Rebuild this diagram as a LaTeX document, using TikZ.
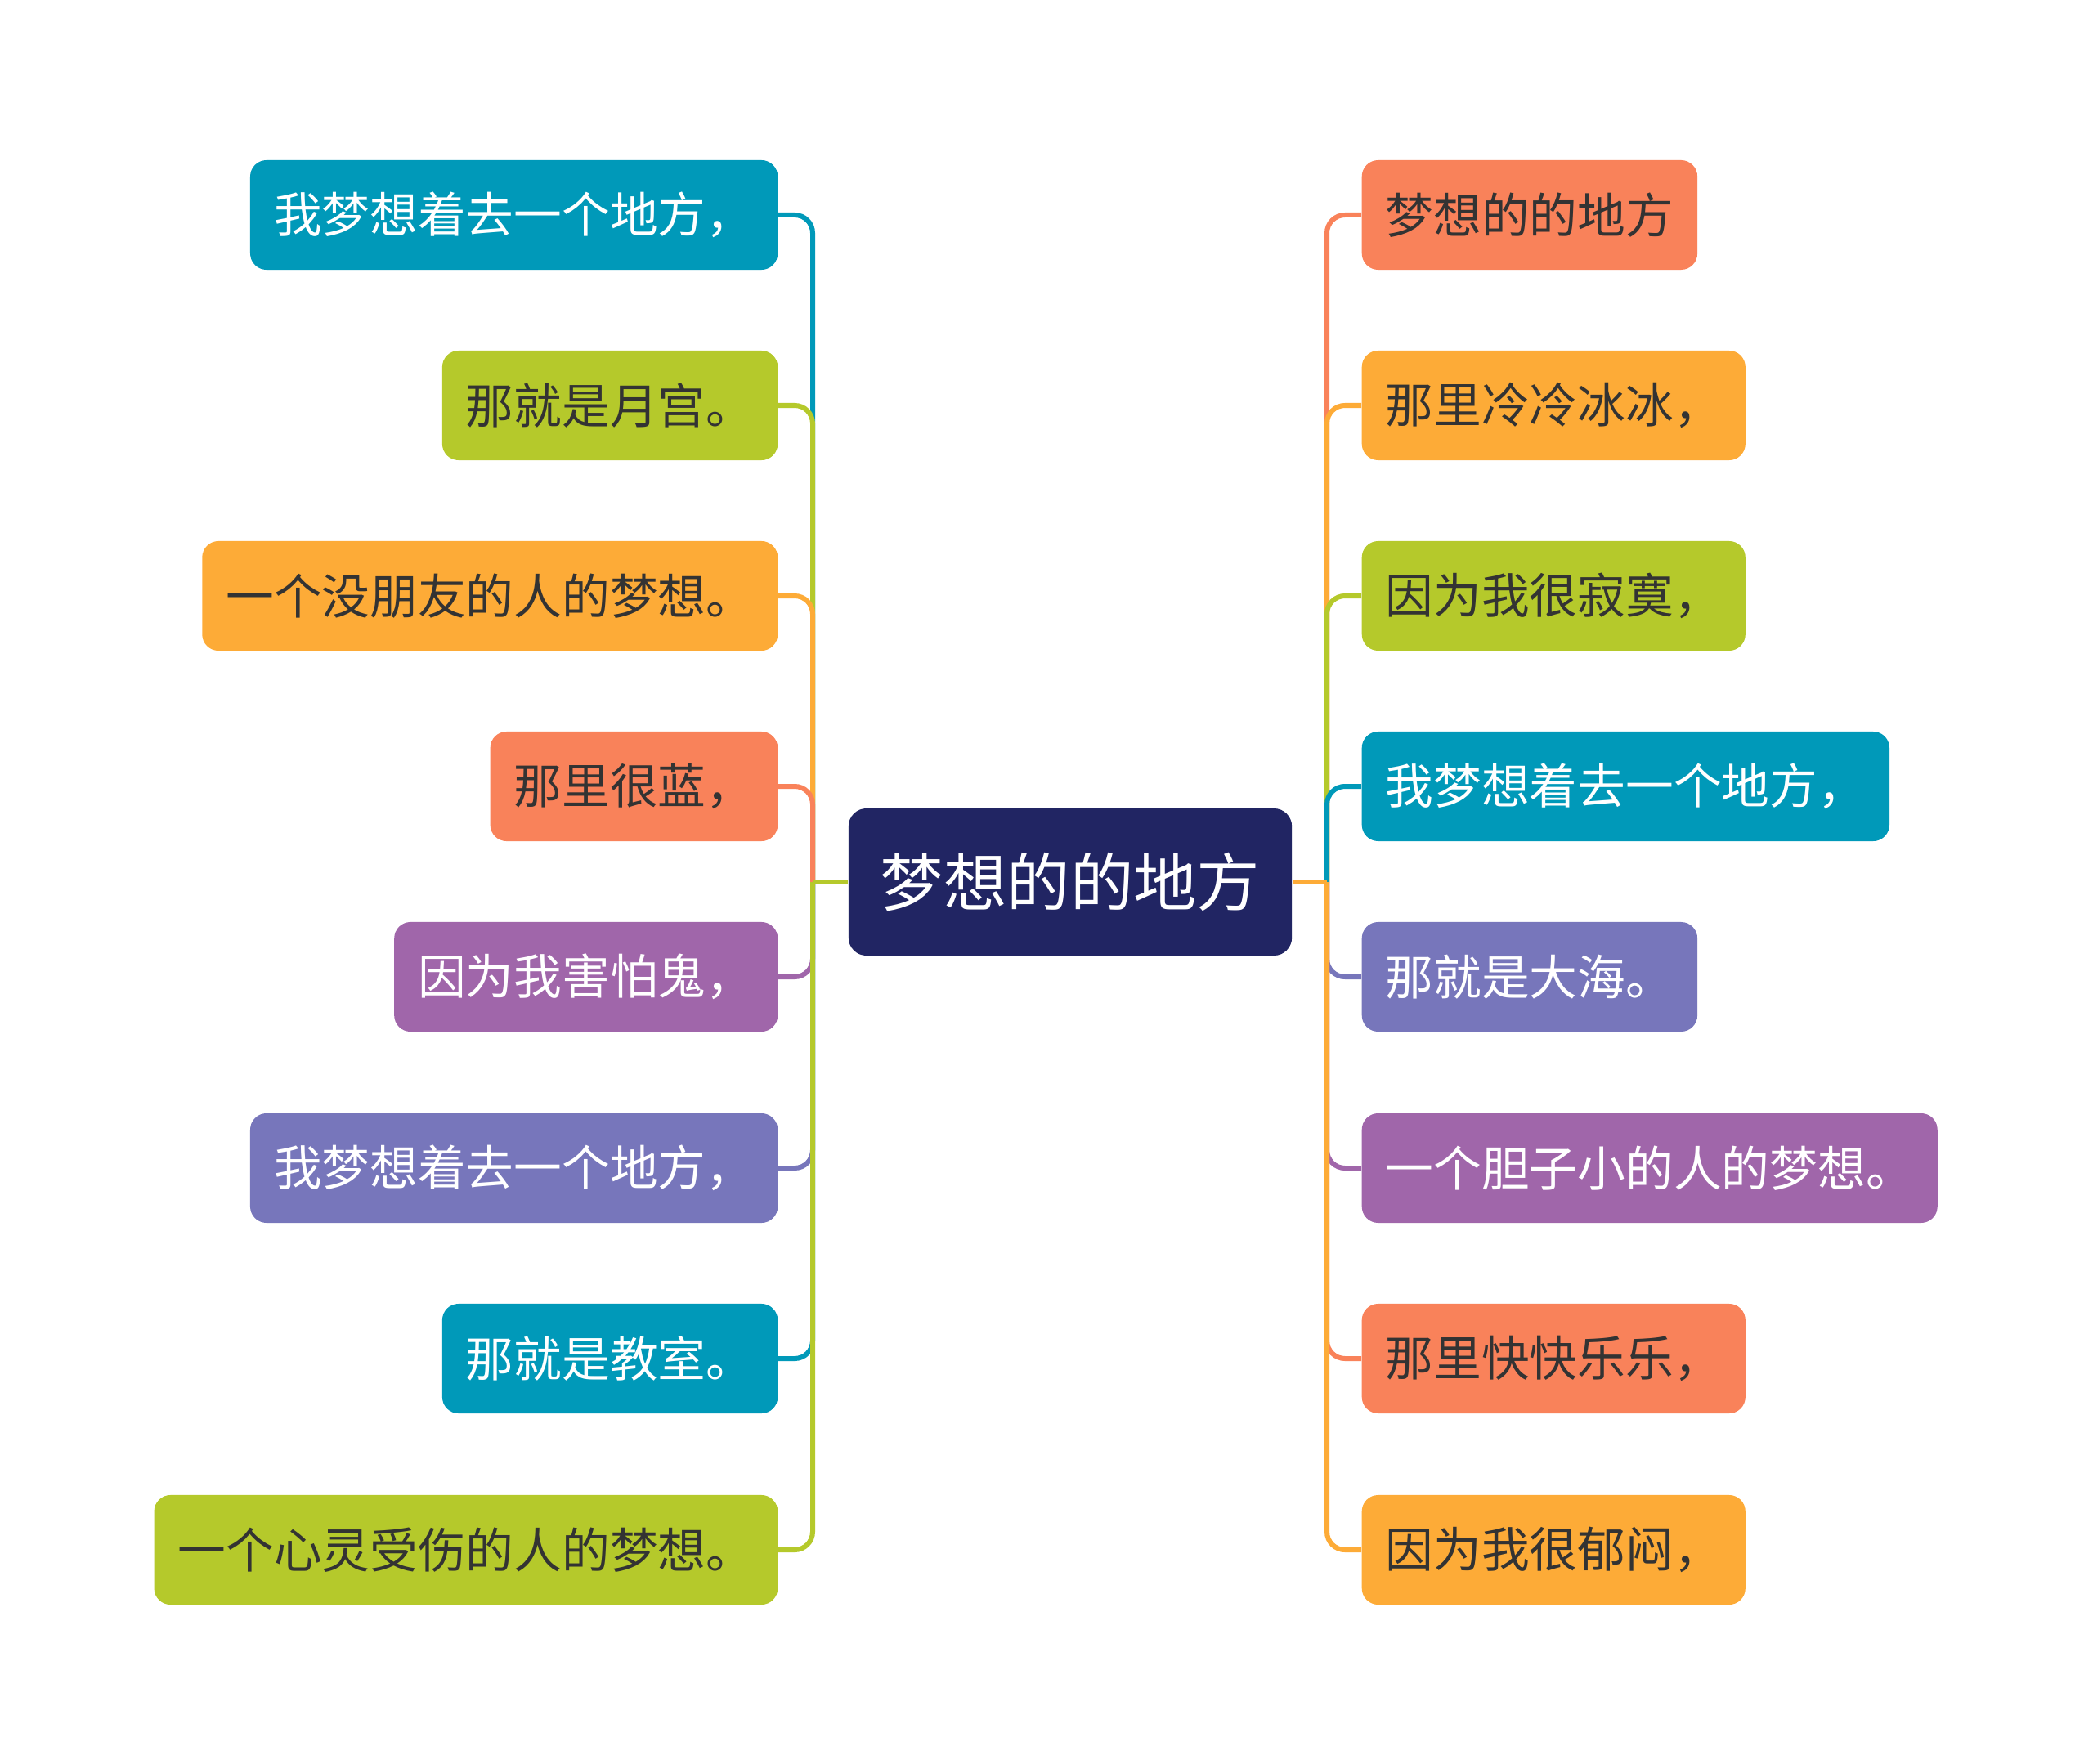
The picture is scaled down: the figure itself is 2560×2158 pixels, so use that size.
\documentclass[tikz,border=0pt]{standalone}
\usepackage{fontspec}
\newfontfamily\cjk{Noto Sans CJK SC}
\usetikzlibrary{positioning}
\definecolor{mmTeal}{HTML}{0099B9}
\definecolor{mmGreen}{HTML}{B5C92B}
\definecolor{mmOrange}{HTML}{FDAB37}
\definecolor{mmCoral}{HTML}{F9825A}
\definecolor{mmPurple}{HTML}{A066AA}
\definecolor{mmLavender}{HTML}{7776BB}
\definecolor{mmNavy}{HTML}{212563}
\definecolor{mmText}{HTML}{333333}

\begin{document}
\begin{tikzpicture}[
  x=0.01cm, y=-0.01cm,
  leaf/.style={rounded corners=0.2cm, inner xsep=0.29cm, inner ysep=0pt, minimum height=1.34cm,
    font=\cjk\fontsize{16.7pt}{20pt}\selectfont, text=mmText},
  rootbox/.style={rounded corners=0.22cm, fill=mmNavy, text=white, minimum width=5.42cm,
    minimum height=1.8cm, font=\cjk\fontsize{22pt}{26pt}\selectfont},
  link/.style={line width=0.06cm, rounded corners=0.22cm}
]
\useasboundingbox (0,0) rectangle (2560,2158);

% --- Root ---------------------------------------------------------------------
\node[rootbox] (root) at (1309,1079) {梦想的的地方};
\coordinate (lspine) at (994,1079);
\coordinate (rspine) at (1623,1079);

% --- Left branch ----------------------------------------------------------------
\node[leaf, anchor=east, fill=mmTeal, text=white] (l1) at (952,263) {我梦想着去一个地方，};
\node[leaf, anchor=east, fill=mmGreen] (l2) at (952,496) {那就是月宫。};
\node[leaf, anchor=east, fill=mmOrange] (l3) at (952,729) {一个没朋友的人的梦想。};
\node[leaf, anchor=east, fill=mmCoral] (l4) at (952,962) {那里很蓝，};
\node[leaf, anchor=east, fill=mmPurple, text=white] (l5) at (952,1195) {因为我害怕鬼，};
\node[leaf, anchor=east, fill=mmLavender, text=white] (l6) at (952,1429) {我梦想着去一个地方，};
\node[leaf, anchor=east, fill=mmTeal, text=white] (l7) at (952,1662) {那就是教室。};
\node[leaf, anchor=east, fill=mmGreen] (l8) at (952,1896) {一个心灵受伤的人的梦想。};

% --- Right branch ---------------------------------------------------------------
\node[leaf, anchor=west, fill=mmCoral] (r1) at (1665,263) {梦想的的地方};
\node[leaf, anchor=west, fill=mmOrange] (r2) at (1665,496) {那里冷冷冰冰，};
\node[leaf, anchor=west, fill=mmGreen] (r3) at (1665,729) {因为我很寂寞，};
\node[leaf, anchor=west, fill=mmTeal, text=white] (r4) at (1665,962) {我梦想着去一个地方，};
\node[leaf, anchor=west, fill=mmLavender, text=white] (r5) at (1665,1195) {那就是大海。};
\node[leaf, anchor=west, fill=mmPurple, text=white] (r6) at (1665,1429) {一个胆子小的人的梦想。};
\node[leaf, anchor=west, fill=mmCoral] (r7) at (1665,1662) {那里快快乐乐，};
\node[leaf, anchor=west, fill=mmOrange] (r8) at (1665,1896) {因为我很郁闷，};

% --- Connectors (later ones lie on top along the spine) -------------------------
\draw[link, mmTeal] (lspine) |- (l1.east);
\draw[link, mmGreen] (lspine) |- (l2.east);
\draw[link, mmOrange] (lspine) |- (l3.east);
\draw[link, mmCoral] (lspine) |- (l4.east);
\draw[link, mmPurple] (lspine) |- (l5.east);
\draw[link, mmLavender] (lspine) |- (l6.east);
\draw[link, mmTeal] (lspine) |- (l7.east);
\draw[link, mmGreen] (lspine) |- (l8.east);
\draw[link, mmGreen] (root.west) -- (lspine);

\draw[link, mmCoral] (rspine) |- (r1.west);
\draw[link, mmOrange] (rspine) |- (r2.west);
\draw[link, mmGreen] (rspine) |- (r3.west);
\draw[link, mmTeal] (rspine) |- (r4.west);
\draw[link, mmLavender] (rspine) |- (r5.west);
\draw[link, mmPurple] (rspine) |- (r6.west);
\draw[link, mmCoral] (rspine) |- (r7.west);
\draw[link, mmOrange] (rspine) |- (r8.west);
\draw[link, mmOrange] (root.east) -- (rspine);

\end{tikzpicture}
\end{document}
